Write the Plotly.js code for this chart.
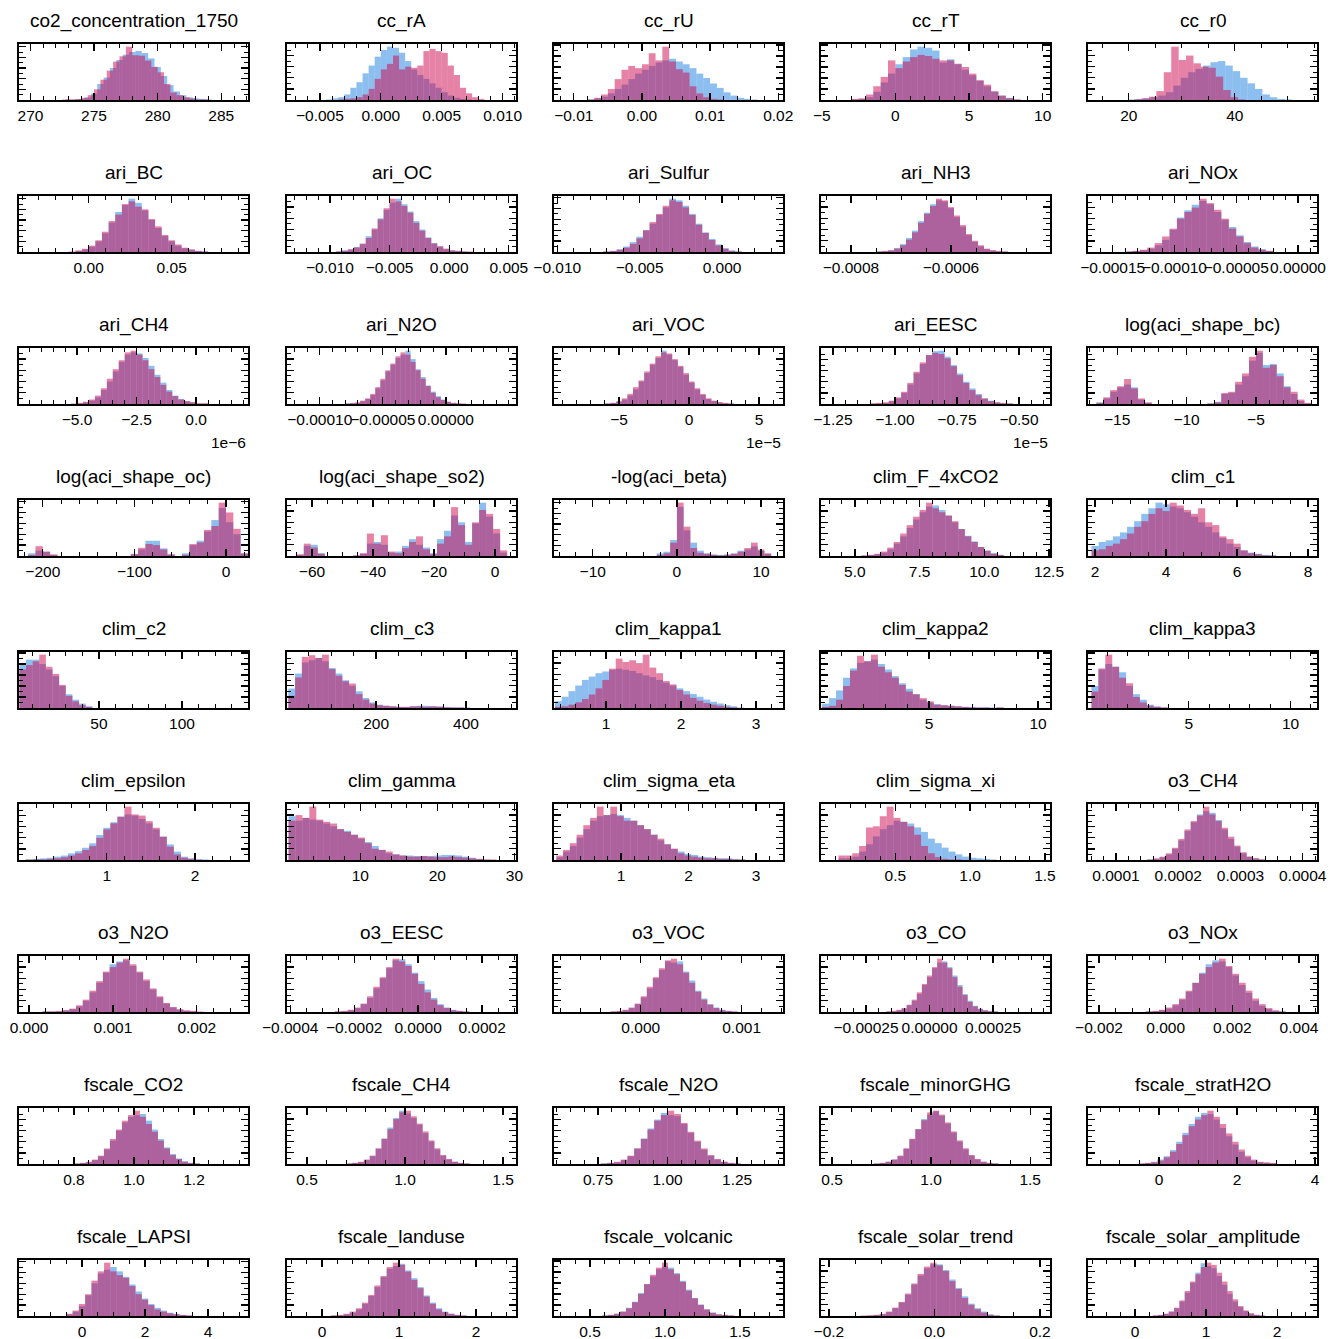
<!DOCTYPE html>
<html><head><meta charset="utf-8">
<script src="https://cdn.plot.ly/plotly-3.0.1.min.js"></script>
<style>body{margin:0;background:#fff}#chart{width:1333px;height:1339px}</style>
</head><body><div id="chart"></div>
<script>
const M = "\u2212";
const titles = ["co2_concentration_1750","cc_rA","cc_rU","cc_rT","cc_r0",
"ari_BC","ari_OC","ari_Sulfur","ari_NH3","ari_NOx",
"ari_CH4","ari_N2O","ari_VOC","ari_EESC","log(aci_shape_bc)",
"log(aci_shape_oc)","log(aci_shape_so2)","-log(aci_beta)","clim_F_4xCO2","clim_c1",
"clim_c2","clim_c3","clim_kappa1","clim_kappa2","clim_kappa3",
"clim_epsilon","clim_gamma","clim_sigma_eta","clim_sigma_xi","o3_CH4",
"o3_N2O","o3_EESC","o3_VOC","o3_CO","o3_NOx",
"fscale_CO2","fscale_CH4","fscale_N2O","fscale_minorGHG","fscale_stratH2O",
"fscale_LAPSI","fscale_landuse","fscale_volcanic","fscale_solar_trend","fscale_solar_amplitude"];

const xRanges = [[269.1,287.1],[-0.0077,0.0111],[-0.0129,0.0207],[-5.05,10.5],[12.3,55.5],
[-0.042,0.096],[-0.0136,0.0056],[-0.0102,0.0037],[-0.00086,-0.000402],[-0.00017,0.0000154],
[-7.44e-6,2.18e-6],[-0.000126,0.0000556],[-9.64e-5,6.71e-5],[-1.298e-5,-0.375e-5],[-17.1,-0.6],
[-226,24],[-68.2,6.9],[-14.6,12.6],[3.69,12.54],[1.80,8.25],
[1.8,139.8],[2,511],[0.307,3.36],[0.05,10.55],[0.05,11.3],
[0.005,2.6],[0.5,30.2],[0.005,3.4],[0.003,1.534],[5.5e-5,4.23e-4],
[-0.00012,0.00261],[-0.00041,0.000306],[-0.00086,0.00141],[-0.000427,0.000474],[-0.00233,0.00454],
[0.617,1.38],[0.398,1.566],[0.592,1.415],[0.444,1.60],[-1.82,4.05],
[-2.0,5.27],[-0.455,2.52],[0.26,1.787],[-0.215,0.219],[-0.66,2.56]];

const binsBlue = [[272.75,284.75],[-0.0045,0.0085],[-0.008,0.018],[-3,8.5],[20,50.8],
[-0.012,0.072],[-0.0095,0.0025],[-0.0072,0.0012],[-0.00075,-0.000486],[-0.00014,-0.00002],
[-5.25e-6,0.5e-6],[-0.00008,0.000016],[-6.0e-5,3.2e-5],[-1.1e-5,-0.525e-5],[-16.5,-1.0],
[-216,24],[-65,4],[-2.4,11.2],[5.25,10.75],[1.9,7.1],
[2,46],[5,410],[0.32,2.84],[0.1,8.74],[0.22,3.96],
[0.08,2.16],[0.7,27.7],[0.04,2.84],[0.12,1.178],[1.5e-4,3.4e-4],
[0.00016,0.00208],[-0.00026,0.00016],[-0.0003,0.00096],[-0.00017,0.00027],[-0.0006,0.0036],
[0.80,1.22],[0.70,1.33],[0.76,1.264],[0.71,1.34],[-0.52,3.0],
[-0.5,3.5],[0.12,1.88],[0.58,1.46],[-0.14,0.124],[0.25,1.825]];
const binsPink = binsBlue.map((b,i)=> i===0 ? [272.5,284.0] : (i===4 ? [21,42] : b));

const tickVals = [[270,275,280,285],[-0.005,0,0.005,0.01],[-0.01,0,0.01,0.02],[-5,0,5,10],[20,40],
[0,0.05],[-0.01,-0.005,0,0.005],[-0.01,-0.005,0],[-0.0008,-0.0006],[-0.00015,-0.0001,-0.00005,0],
[-5e-6,-2.5e-6,0],[-0.0001,-0.00005,0],[-5e-5,0,5e-5],[-1.25e-5,-1e-5,-0.75e-5,-0.5e-5],[-15,-10,-5],
[-200,-100,0],[-60,-40,-20,0],[-10,0,10],[5,7.5,10,12.5],[2,4,6,8],
[50,100],[200,400],[1,2,3],[5,10],[5,10],
[1,2],[10,20,30],[1,2,3],[0.5,1.0,1.5],[0.0001,0.0002,0.0003,0.0004],
[0,0.001,0.002],[-0.0004,-0.0002,0,0.0002],[0,0.001],[-0.00025,0,0.00025],[-0.002,0,0.002,0.004],
[0.8,1.0,1.2],[0.5,1.0,1.5],[0.75,1.0,1.25],[0.5,1.0,1.5],[0,2,4],
[0,2,4],[0,1,2],[0.5,1.0,1.5],[-0.2,0,0.2],[0,1,2]];
const tickText = [["270","275","280","285"],[M+"0.005","0.000","0.005","0.010"],[M+"0.01","0.00","0.01","0.02"],[M+"5","0","5","10"],["20","40"],
["0.00","0.05"],[M+"0.010",M+"0.005","0.000","0.005"],[M+"0.010",M+"0.005","0.000"],[M+"0.0008",M+"0.0006"],[M+"0.00015",M+"0.00010",M+"0.00005","0.00000"],
[M+"5.0",M+"2.5","0.0"],[M+"0.00010",M+"0.00005","0.00000"],[M+"5","0","5"],[M+"1.25",M+"1.00",M+"0.75",M+"0.50"],[M+"15",M+"10",M+"5"],
[M+"200",M+"100","0"],[M+"60",M+"40",M+"20","0"],[M+"10","0","10"],["5.0","7.5","10.0","12.5"],["2","4","6","8"],
["50","100"],["200","400"],["1","2","3"],["5","10"],["5","10"],
["1","2"],["10","20","30"],["1","2","3"],["0.5","1.0","1.5"],["0.0001","0.0002","0.0003","0.0004"],
["0.000","0.001","0.002"],[M+"0.0004",M+"0.0002","0.0000","0.0002"],["0.000","0.001"],[M+"0.00025","0.00000","0.00025"],[M+"0.002","0.000","0.002","0.004"],
["0.8","1.0","1.2"],["0.5","1.0","1.5"],["0.75","1.00","1.25"],["0.5","1.0","1.5"],["0","2","4"],
["0","2","4"],["0","1","2"],["0.5","1.0","1.5"],[M+"0.2","0.0","0.2"],["0","1","2"]];
const minorStep = [1,0.001,0.002,1,5, 0.01,0.001,0.001,0.00005,0.00001, 0.5e-6,0.00001,1e-5,0.05e-5,1,
20,5,2,0.5,0.5, 10,50,0.2,1,1, 0.2,2,0.2,0.1,0.00002, 0.0002,0.00005,0.0002,0.00005,0.0005,
0.05,0.1,0.05,0.1,0.5, 0.5,0.2,0.1,0.05,0.2];
const offsetText = {10:"1e"+M+"6", 12:"1e"+M+"5", 13:"1e"+M+"5"};

const blue01=[1,1,2,5,12,30,42,60,75,85,90,92,88,78,62,45,28,16,9,5,3,2,1,0];
const pink01=[1,1,2,4,9,20,38,55,72,82,100,84,83,74,62,52,30,14,9,5,3,1,1];
const blue02=[1,3,5,10,22,32,48,62,78,90,96,94,85,70,55,45,38,30,22,14,8,4,2,1,0,0];
const pink02=[0,0,1,2,3,5,10,20,38,55,65,80,55,60,58,62,88,92,88,85,62,45,22,12,5,2];
const blue03=[1,3,6,12,20,28,38,48,55,62,68,72,75,70,65,58,48,40,30,22,14,8,4,2,1,0];
const pink03=[1,4,10,20,38,55,62,58,65,85,72,97,70,56,50,25,12,5,2,1,0,0,0,0,0,0];
const blue04=[1,2,5,15,32,48,65,78,92,97,95,90,68,74,65,55,45,35,25,15,8,4,1];
const pink04=[2,3,10,25,42,72,58,70,78,82,80,75,72,72,66,60,48,36,28,16,8,3,1];
const blue05=[1,2,3,5,8,14,26,40,50,56,62,68,70,62,52,40,30,20,10,5,2,1];
const pink05=[1,3,6,16,50,96,72,80,66,60,58,42,18,5,1];
const blue06=[0,2,5,10,20,35,55,75,88,100,92,78,60,45,30,20,12,7,4,2,1];
const pink06=[1,3,6,12,22,38,58,70,90,95,85,80,62,48,32,22,14,8,5,2,1];
const blue07=[1,3,4,9,14,28,40,60,75,88,95,85,72,55,40,26,16,10,5,3,2,1,0,0];
const pink07=[1,2,5,8,15,25,42,58,78,95,90,82,70,52,38,25,15,10,6,3,2,1,1,0];
const blue08=[1,2,5,10,18,28,40,52,68,82,98,95,85,70,52,36,24,14,7,3,1];
const pink08=[1,2,4,8,15,25,40,55,70,85,95,92,82,68,50,35,22,12,6,2,1];
const blue09=[1,1,3,7,14,25,38,55,70,85,92,90,78,62,45,30,18,10,5,3,1,1];
const pink09=[1,2,3,6,12,22,35,52,68,82,95,92,80,65,48,32,20,12,6,3,2,1];
const blue10=[1,2,3,6,12,22,40,62,75,85,92,86,72,58,45,30,18,10,5,2];
const pink10=[1,2,4,8,16,28,42,60,72,80,96,88,76,60,42,28,16,8,4,2];
const blue11=[0,1,3,6,12,25,40,58,75,88,92,90,82,68,52,38,25,15,9,5,3,1,1];
const pink11=[1,2,4,8,15,28,45,62,78,92,95,88,78,62,48,34,22,14,8,5,3,1,1];
const blue12=[1,1,2,5,9,16,28,42,58,70,82,88,95,80,62,48,33,22,14,8,4,2,1,0];
const pink12=[1,2,3,6,10,18,30,45,60,72,85,92,88,75,60,45,32,20,12,7,4,2,1,1];
const blue13=[1,2,4,8,15,26,40,55,70,82,95,88,78,66,52,38,26,16,9,5,3,1,1];
const pink13=[1,2,5,10,18,30,42,58,72,85,92,90,80,68,55,40,28,18,10,6,3,2,1];
const blue14=[1,1,2,5,10,20,35,55,72,88,95,96,85,70,55,40,28,18,10,6,3,1,1];
const pink14=[1,2,3,6,12,22,38,58,75,88,92,90,82,68,52,38,25,16,10,5,3,2,1];
const blue15=[3,10,22,30,35,30,8,2,0,0,0,0,0,0,0,0,1,4,18,20,35,50,78,92,70,72,55,32,18,5,1];
const pink15=[2,12,25,32,45,28,10,3,0,0,0,0,0,0,0,0,1,3,20,22,40,55,85,96,65,70,50,30,22,8,2];
const blue16=[5,10,8,2,0,0,0,0,0,0,0,0,0,0,4,12,28,28,14,3,0,5,20,28,45,66,88,62,40,4];
const pink16=[2,18,8,3,0,0,0,0,0,0,0,0,0,0,3,15,22,20,12,3,0,2,22,25,48,55,98,80,50,5];
const blue17=[2,18,20,5,0,0,0,0,1,4,22,25,20,6,8,18,30,20,15,5,30,45,72,60,25,58,95,70,40,6];
const pink17=[3,22,15,4,0,0,0,0,1,5,40,22,37,8,5,14,25,35,12,3,22,35,87,55,20,60,82,75,48,10];
const blue18=[5,8,30,92,48,25,10,5,3,2,3,5,10,12,18,10,4];
const pink18=[2,5,25,100,55,15,6,4,2,1,2,4,8,15,25,12,5];
const blue19=[1,2,3,6,12,22,35,50,65,78,88,90,82,72,60,48,36,26,16,10,5,2];
const pink19=[1,2,4,8,15,25,40,55,70,82,95,85,78,72,62,48,35,25,16,9,4,2];
const blue20=[18,25,28,35,42,52,62,75,85,95,92,88,85,78,70,60,52,42,32,22,16,10,6,4,2,1];
const pink20=[10,12,18,22,30,40,52,62,75,85,80,95,90,82,75,85,60,55,35,30,22,10,5,3,1,1];
const blue21=[80,88,88,80,70,58,40,25,15,8,3];
const pink21=[70,78,85,97,75,62,42,22,12,5,2];
const blue22=[35,62,82,86,90,84,72,62,50,40,30,18,10,6,4,3,2,2,3,4,4,3,3,2,1,1,1];
const pink22=[22,55,92,95,90,96,70,58,48,44,25,15,8,5,4,3,2,2,3,3,2,3,2,1,1,1,0];
const blue23=[12,20,30,40,50,56,62,65,68,70,68,66,62,58,55,50,45,40,35,30,25,20,15,11,8,5,3,1];
const pink23=[2,3,6,10,16,24,35,50,70,88,82,85,80,95,72,62,48,42,32,24,18,13,9,6,4,2,1,0];
const blue24=[8,18,32,55,72,82,85,88,80,70,58,45,35,25,15,10,7,5,4,3,2,2,1,1,1,1,0];
const pink24=[2,4,15,40,68,95,85,97,75,65,55,42,30,25,18,12,6,5,4,3,2,1,1,1,0,1,0];
const blue25=[40,70,80,75,65,40,25,15,6,3,1];
const pink25=[30,72,97,75,55,45,20,10,4,2,1];
const blue26=[1,2,3,4,6,8,12,16,22,30,45,58,68,78,82,80,74,66,55,42,28,15,6,3,1,1];
const pink26=[1,1,1,2,3,5,8,12,18,25,40,55,66,78,96,82,80,70,58,42,24,10,4,2,1,0];
const blue27=[78,70,75,72,70,65,60,55,52,45,38,32,25,18,12,10,8,8,7,7,7,8,9,9,8,6,4,2,1,0];
const pink27=[70,80,75,95,72,68,65,55,50,45,40,30,20,18,15,10,8,6,6,7,6,5,5,6,5,4,3,2,1,1];
const blue28=[5,15,25,40,55,70,78,80,82,80,75,70,62,55,45,35,28,20,15,11,9,6,5,4,3,3,2,1];
const pink28=[8,18,30,45,62,75,95,80,95,78,70,70,62,55,45,38,28,20,12,8,6,4,3,3,2,2,1,1];
const blue29=[3,3,6,15,28,42,55,62,70,68,65,58,50,38,30,22,15,10,6,4,3,2,1];
const pink29=[8,8,12,25,58,60,78,95,75,68,60,45,25,12,5,2,1,1,0,0,0,0,0];
const blue30=[1,2,5,10,20,35,52,68,82,88,85,72,55,38,24,12,6,3,1];
const pink30=[1,3,6,12,22,38,55,70,80,96,82,70,58,42,26,14,6,3,1];
const blue31=[1,1,1,3,5,10,20,35,52,70,85,90,92,82,70,55,40,26,15,8,4,2,1,0];
const pink31=[1,1,2,3,6,12,22,38,55,72,80,88,95,85,72,58,42,28,16,9,5,3,2,1];
const blue32=[1,1,3,7,14,25,42,60,78,92,94,85,70,55,40,25,14,8,4,2,1];
const pink32=[1,2,4,8,15,28,45,62,80,95,90,82,68,50,35,22,12,7,3,2,1];
const blue33=[1,1,3,7,14,26,42,60,75,90,88,90,72,56,38,24,14,8,4,2,1];
const pink33=[1,2,4,8,15,28,45,62,78,92,95,85,70,52,36,22,13,7,3,2,1];
const blue34=[1,1,3,6,12,20,32,48,62,78,88,90,80,65,48,32,20,11,6,3,2,1];
const pink34=[1,2,4,7,13,22,35,50,65,80,95,88,78,62,45,30,18,10,5,3,1,1];
const blue35=[1,1,3,6,12,22,36,52,70,85,92,90,80,65,48,34,20,11,5,2,1];
const pink35=[1,2,4,8,14,24,38,52,68,80,88,95,82,68,52,38,24,14,7,3,1];
const blue36=[1,2,3,7,14,26,42,60,75,85,88,90,78,62,45,30,18,10,5,2,1];
const pink36=[1,2,4,8,15,28,45,62,78,88,96,85,72,58,42,28,16,9,4,2,1];
const blue37=[1,2,3,7,14,27,45,65,82,95,90,82,70,55,40,26,15,8,4,2,1];
const pink37=[1,2,4,8,15,28,45,62,80,92,95,85,72,58,42,28,16,9,4,2,1];
const blue38=[1,2,3,7,14,28,46,64,80,92,88,86,72,56,40,26,15,8,4,2,1];
const pink38=[1,2,4,8,15,28,45,62,78,88,96,90,74,58,42,28,16,9,4,2,1];
const blue39=[1,2,4,8,14,27,44,62,80,88,94,86,72,56,40,26,15,8,4,2,1];
const pink39=[1,2,4,8,15,28,45,62,78,92,95,88,74,58,42,28,16,9,4,2,1];
const blue40=[1,2,4,8,14,25,40,56,72,85,92,90,80,65,50,35,22,12,6,3,2,1];
const pink40=[1,2,3,6,12,22,36,52,68,80,88,96,85,72,55,40,26,15,8,4,3,2];
const blue41=[3,8,18,38,60,78,85,90,82,72,58,45,32,22,15,10,6,4,2,1];
const pink41=[4,10,22,40,65,82,98,82,75,70,55,40,30,20,12,8,5,3,2,1];
const blue42=[1,1,3,6,12,22,36,52,70,85,90,94,82,68,52,37,24,14,8,4,2,1];
const pink42=[1,2,4,8,14,24,38,55,72,88,96,92,80,65,50,35,22,12,7,4,2,1];
const blue43=[1,2,4,8,15,26,42,58,72,85,90,88,78,64,48,33,21,12,6,3,2,1];
const pink43=[1,2,4,8,14,25,40,58,75,88,97,85,76,62,46,32,20,12,6,3,2,1];
const blue44=[0,1,2,3,7,14,24,38,56,72,85,92,92,82,65,50,35,22,14,8,3,1];
const pink44=[1,1,2,4,8,15,25,40,58,75,88,95,90,80,62,48,32,20,12,6,2,1];
const blue45=[1,2,4,8,14,26,42,60,78,95,90,86,72,56,40,26,16,9,4,2,1];
const pink45=[1,2,4,8,15,28,45,62,75,88,96,92,78,62,45,30,18,10,5,2,1];

const blueCounts=[blue01,blue02,blue03,blue04,blue05,blue06,blue07,blue08,blue09,blue10,blue11,blue12,blue13,blue14,blue15,
blue16,blue17,blue18,blue19,blue20,blue21,blue22,blue23,blue24,blue25,blue26,blue27,blue28,blue29,blue30,
blue31,blue32,blue33,blue34,blue35,blue36,blue37,blue38,blue39,blue40,blue41,blue42,blue43,blue44,blue45];
const pinkCounts=[pink01,pink02,pink03,pink04,pink05,pink06,pink07,pink08,pink09,pink10,pink11,pink12,pink13,pink14,pink15,
pink16,pink17,pink18,pink19,pink20,pink21,pink22,pink23,pink24,pink25,pink26,pink27,pink28,pink29,pink30,
pink31,pink32,pink33,pink34,pink35,pink36,pink37,pink38,pink39,pink40,pink41,pink42,pink43,pink44,pink45];

const W = 1333, H = 1339;
const colLeft = [19, 287, 554, 821, 1088], panelW = 229;
const rowTop0 = 44, rowPitch = 152, panelH = 56;
const FONT = "Liberation Sans, Arial, Helvetica, sans-serif";
const BLUE = "rgba(25,125,225,0.5)", PINK = "rgba(205,5,75,0.5)";

function centers(lo, hi, n){ const w=(hi-lo)/n; return Array.from({length:n},(_,k)=>lo+w*(k+0.5)); }

const traces = [], annotations = [];
const layout = {width:W, height:H, margin:{l:0,r:0,t:0,b:0}, paper_bgcolor:"#fff", plot_bgcolor:"#fff",
  barmode:"overlay", showlegend:false, font:{family:FONT, color:"#000"}};

titles.forEach((t,i)=>{
  const r = Math.floor(i/5), c = i%5, s = i===0 ? "" : String(i+1);
  const L = colLeft[c], R = L+panelW, T = rowTop0 + r*rowPitch, B = T+panelH;
  [[binsBlue[i], blueCounts[i], BLUE],[binsPink[i], pinkCounts[i], PINK]].forEach(([b,cnt,col])=>{
    traces.push({type:"bar", x:centers(b[0],b[1],cnt.length), y:cnt, width:(b[1]-b[0])/cnt.length,
      marker:{color:col, line:{width:0}}, xaxis:"x"+s, yaxis:"y"+s, hoverinfo:"skip"});
  });
  const ymax = 1.05*Math.max(...blueCounts[i], ...pinkCounts[i]);
  layout["xaxis"+s] = {domain:[L/W, R/W], range:xRanges[i], anchor:"y"+s, tickmode:"array",
    tickvals:tickVals[i], ticktext:tickText[i], tickangle:0, ticks:"inside", ticklen:7, tickwidth:1.3, tickcolor:"#000",
    showline:true, linewidth:2, linecolor:"#000", mirror:"allticks", showgrid:false, zeroline:false,
    ticklabelstandoff:0, tickfont:{family:FONT, size:15.5, color:"#000"},
    minor:{tickmode:"linear", tick0:0, dtick:minorStep[i], ticks:"inside", ticklen:4, tickwidth:1, tickcolor:"#000", showgrid:false}};
  layout["yaxis"+s] = {domain:[1-B/H, 1-T/H], range:[0, ymax], anchor:"x"+s, tickmode:"linear", tick0:0, dtick:20,
    ticks:"inside", ticklen:7, tickwidth:1.3, tickcolor:"#000", showticklabels:false,
    showline:true, linewidth:2, linecolor:"#000", mirror:"allticks", showgrid:false, zeroline:false,
    minor:{tickmode:"linear", tick0:0, dtick:10, ticks:"inside", ticklen:4, tickwidth:1, tickcolor:"#000", showgrid:false}};
  annotations.push({xref:"paper", yref:"paper", x:(L+R)/2/W, y:1-(T-23)/H, xanchor:"center", yanchor:"middle",
    text:t, showarrow:false, font:{family:FONT, size:19, color:"#000"}});
  if (offsetText[i]) annotations.push({xref:"paper", yref:"paper", x:R/W, y:1-(B+38)/H, xanchor:"right", yanchor:"middle",
    text:offsetText[i], showarrow:false, font:{family:FONT, size:15.5, color:"#000"}});
});
layout.annotations = annotations;
Plotly.newPlot("chart", traces, layout, {staticPlot:true, displayModeBar:false});
</script></body></html>
